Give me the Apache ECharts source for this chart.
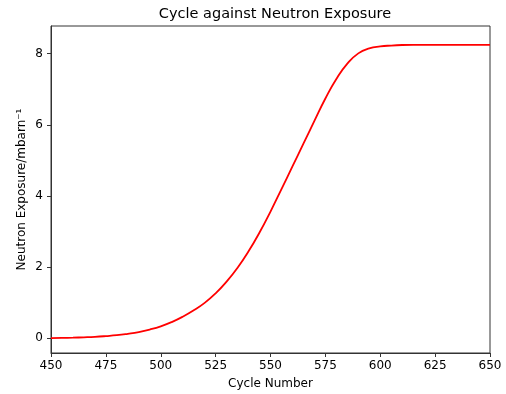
<!DOCTYPE html>
<html>
<head>
<meta charset="utf-8">
<script src="https://cdn.jsdelivr.net/npm/echarts@6/dist/echarts.min.js"></script>
<style>html,body{margin:0;padding:0;background:#fff}#c{width:506px;height:394px}</style>
</head>
<body>
<div id="c"></div>
<script>
const cycles = [450,455,460,465,470,475,480,485,490,495,500,505,510,515,520,525,530,535,540,545,550,555,560,565,570,575,580,585,590,595,600,605,610,615,620,625,630,635,640,645,650];
const exposure = [0.00,0.005,0.012,0.022,0.035,0.055,0.08,0.12,0.17,0.24,0.33,0.45,0.60,0.78,0.99,1.26,1.59,1.98,2.44,2.97,3.56,4.19,4.83,5.47,6.11,6.74,7.29,7.72,8.01,8.15,8.205,8.23,8.245,8.25,8.25,8.25,8.25,8.25,8.25,8.25,8.25];
const yTicks = [0,2,4,6,8];
const titleText = 'Cycle against Neutron Exposure';
const xName = 'Cycle Number';
const yName = 'Neutron Exposure/mbarn\u207B\u00B9';

const font = 'DejaVu Sans';
const chart = echarts.init(document.getElementById('c'), null, {renderer:'canvas'});
chart.setOption({
  animation: false,
  backgroundColor: '#fff',
  title: {
    text: titleText, left: 270, top: 2, textAlign: 'center',
    textStyle: {fontFamily: font, fontSize: 14.5, fontWeight: 'normal', color: '#000'}
  },
  grid: {left: 51, right: 16, top: 26, bottom: 41, show: true, borderColor: '#333', borderWidth: 1, backgroundColor: 'transparent', outerBoundsMode: 'none', containLabel: false},
  xAxis: {
    type: 'value', min: 450, max: 650, interval: 25,
    name: xName, nameLocation: 'middle', nameGap: 25,
    nameTextStyle: {fontFamily: font, fontSize: 12, color: '#000'},
    axisLine: {show: true, onZero: false, lineStyle: {color: '#333', width: 1}},
    axisTick: {show: true, inside: false, length: 4, lineStyle: {color: '#333'}},
    axisLabel: {fontFamily: font, fontSize: 12, color: '#000', margin: 7, showMinLabel: true, showMaxLabel: true},
    splitLine: {show: false}
  },
  yAxis: {
    type: 'value', min: -0.42, max: 8.78,
    name: yName, nameLocation: 'middle', nameGap: 23, nameMoveOverlap: false,
    nameTextStyle: {fontFamily: font, fontSize: 12, color: '#000'},
    axisLine: {show: true, onZero: false, lineStyle: {color: '#333', width: 1}},
    axisTick: {show: true, inside: false, length: 4, customValues: yTicks, lineStyle: {color: '#333'}},
    axisLabel: {fontFamily: font, fontSize: 12, color: '#000', margin: 8, customValues: yTicks},
    splitLine: {show: false}
  },
  series: [{
    type: 'line',
    data: cycles.map((c, i) => [c, exposure[i]]),
    showSymbol: false, symbol: 'none', smooth: 0.5,
    lineStyle: {color: '#ff0000', width: 1.8},
    clip: true
  }]
});
</script>
</body>
</html>
